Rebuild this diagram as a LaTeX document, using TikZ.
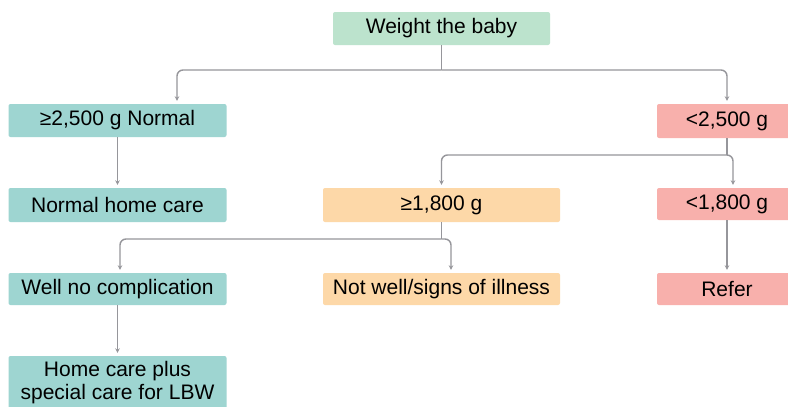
\documentclass[tikz,border=0pt]{standalone}
\usepackage{fontspec}
\setmainfont{Liberation Sans}
\usetikzlibrary{arrows.meta}
\definecolor{cgreen}{RGB}{188,227,205}
\definecolor{cteal}{RGB}{158,213,209}
\definecolor{corange}{RGB}{253,216,168}
\definecolor{cpink}{RGB}{248,176,172}
\definecolor{cline}{RGB}{150,150,155}
\begin{document}
\begin{tikzpicture}[x=1pt,y=-1pt,
  box/.style={rectangle, rounded corners=2pt, inner sep=0pt, text=black,
    font=\fontsize{21}{23}\selectfont, align=center},
  greenbox/.style={box, fill=cgreen},
  tealbox/.style={box, fill=cteal, minimum width=218pt},
  orangebox/.style={box, fill=corange, minimum width=237pt},
  pinkbox/.style={box, fill=cpink, minimum width=140pt},
  conn/.style={draw=cline, line width=1.4pt},
  arr/.style={conn, rounded corners=6pt, shorten >=3pt,
    -{Stealth[length=4.5pt,width=4.5pt]}}
]
\useasboundingbox[fill=white] (0,0) rectangle (788,407);
\clip (0,0) rectangle (788,407);

% nodes
\node[greenbox, minimum width=217pt, minimum height=33pt] (top) at (441.5,28.5) {Weight the baby};
\node[tealbox, minimum height=33pt] (a) at (117.5,120.5) {≥2,500 g Normal};
\node[pinkbox, minimum height=34pt] (b) at (727,121) {<2,500 g};
\node[tealbox, minimum height=34pt] (c) at (117.5,205) {Normal home care};
\node[orangebox, minimum height=34pt] (d) at (441.5,205) {≥1,800 g};
\node[pinkbox, minimum height=32pt] (e) at (727,204) {<1,800 g};
\node[tealbox, minimum height=32pt] (f) at (117.5,289) {Well no complication};
\node[orangebox, minimum height=32pt] (g) at (441.5,289) {Not well/signs of illness};
\node[pinkbox, minimum height=32pt] (h) at (727,289) {Refer};
\node[tealbox, minimum height=54pt] (i) at (117.5,383) {Home care plus\\special care for LBW};

% junction points
\coordinate (j1) at (top.south |- 0,70);
\coordinate (j2) at (b.south |- 0,155);
\coordinate (j3) at (d.south |- 0,239);

% connectors
\draw[conn] (top.south) -- (j1);
\draw[arr] (j1) -| ([xshift=59.5pt]a.north);
\draw[arr] (j1) -| (b.north);
\draw[arr] (a.south) -- (c.north);
\draw[conn] (b.south) -- (j2);
\draw[arr] (j2) -| (d.north);
\draw[arr] (j2) -| ([xshift=6pt]e.north);
\draw[conn] (d.south) -- (j3);
\draw[arr] (j3) -| ([xshift=2.5pt]f.north);
\draw[arr] (j3) -| ([xshift=9.5pt]g.north);
\draw[arr] (e.south) -- (h.north);
\draw[arr] (f.south) -- (i.north);
\end{tikzpicture}
\end{document}
